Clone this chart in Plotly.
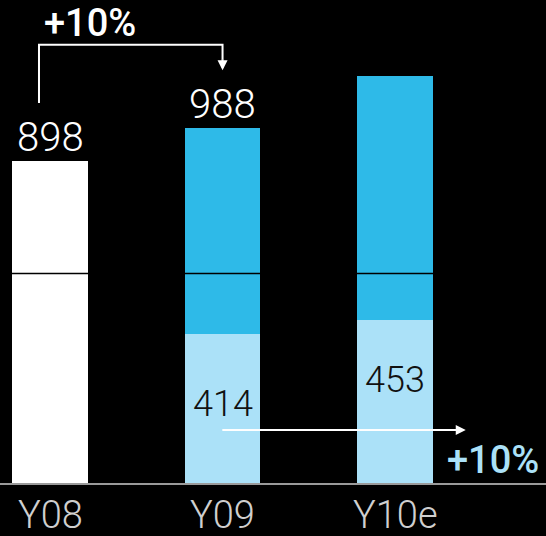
import plotly.graph_objects as go

# Chart data
categories = ["Y08", "Y09", "Y10e"]
totals = [898, 988, 1135]          # full bar heights
lower = [898, 414, 453]            # bottom segment of each bar
total_labels = ["898", "988", ""]
lower_labels = ["", "414", "453"]

WHITE = "#ffffff"
DARK = "#2ebae8"
LIGHT = "#abe1f8"
FONT = "Roboto"

x_pos = list(range(len(categories)))
upper = [t - l for t, l in zip(totals, lower)]

fig = go.Figure()
fig.add_trace(go.Bar(
    x=x_pos, y=lower, width=0.44,
    marker=dict(color=[WHITE, LIGHT, LIGHT], line=dict(width=0)),
    hoverinfo="skip",
))
fig.add_trace(go.Bar(
    x=x_pos, y=upper, width=0.44,
    marker=dict(color=[WHITE, DARK, DARK], line=dict(width=0)),
    hoverinfo="skip",
))

# thin black separator running across the bars
fig.add_shape(type="line", xref="paper", yref="y", x0=0, x1=1, y0=584, y1=584,
              line=dict(color="black", width=1.5), layer="above")

annotations = []
# totals above the bars
for xp, t, lab in zip(x_pos, totals, total_labels):
    if lab:
        annotations.append(dict(x=xp, y=t, text=lab, showarrow=False, yanchor="bottom",
                                yshift=-2, font=dict(family=FONT, size=40, color=WHITE, weight=300)))
# values inside the lower segments
lower_text_y = [0, 220, 287]
for xp, ly, lab in zip(x_pos, lower_text_y, lower_labels):
    if lab:
        annotations.append(dict(x=xp, y=ly, text=lab, showarrow=False,
                                font=dict(family=FONT, size=36, color="#111111", weight=300)))

# category labels under the baseline
for xp, cat in zip(x_pos, categories):
    annotations.append(dict(x=xp, y=0, xref="x", yref="paper", text=cat, showarrow=False,
                            yanchor="top", yshift=-8,
                            font=dict(family=FONT, size=38, color="#cfcfcf", weight=300)))

# growth bracket from Y08 to Y09
bx0 = -0.064
fig.add_shape(type="path", xref="x", yref="y",
              path=f"M {bx0},1059 L {bx0},1221 L 1,1221 L 1,1180",
              line=dict(color=WHITE, width=2))
annotations.append(dict(x=1, y=1150, ax=1, ay=1185, xref="x", yref="y", axref="x", ayref="y",
                        showarrow=True, arrowhead=2, arrowsize=1, arrowwidth=2, arrowcolor=WHITE, text=""))
annotations.append(dict(x=0.232, y=1221, xref="x", yref="y", text="+10%", showarrow=False,
                        yanchor="bottom", yshift=-2,
                        font=dict(family=FONT, size=38, color=WHITE, weight=500)))

# growth arrow along the lower segments
annotations.append(dict(x=2.41, y=148, ax=0.99, ay=148, xref="x", yref="y", axref="x", ayref="y",
                        showarrow=True, arrowhead=2, arrowsize=1, arrowwidth=2, arrowcolor=WHITE, text=""))
annotations.append(dict(x=2.565, y=64, xref="x", yref="y", text="+10%", showarrow=False,
                        font=dict(family=FONT, size=38, color=LIGHT, weight=500)))

fig.update_layout(
    width=546, height=536,
    margin=dict(l=0, r=0, t=0, b=53),
    paper_bgcolor="black", plot_bgcolor="black",
    barmode="stack", showlegend=False,
    annotations=annotations,
    xaxis=dict(range=[-0.29, 2.875], tickvals=x_pos, ticktext=categories, showticklabels=False,
               showgrid=False, zeroline=False, showline=True, linecolor="#9a9a9a", linewidth=2,
               ticks="", automargin=False, fixedrange=True),
    yaxis=dict(range=[0, 1346], visible=False, fixedrange=True),
)

fig.write_html("out.html")
